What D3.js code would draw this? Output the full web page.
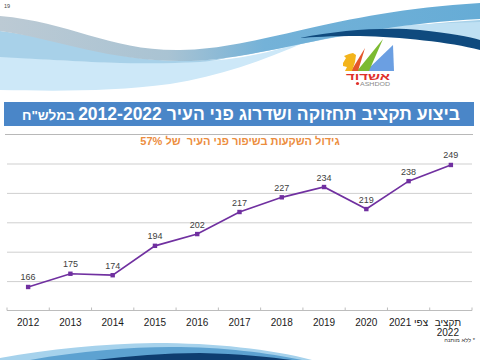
<!DOCTYPE html>
<html><head><meta charset="utf-8">
<script src="https://cdn.jsdelivr.net/npm/d3@7"></script>
<style>html,body{margin:0;padding:0;background:#fff;}svg{display:block;}</style>
</head><body>
<script>
// ---- data ----
const categories = ["2012","2013","2014","2015","2016","2017","2018","2019","2020","2021","2022"];
const values = [166,175,174,194,202,217,227,234,219,238,249];
const tickLabels = [["2012"],["2013"],["2014"],["2015"],["2016"],["2017"],["2018"],["2019"],["2020"],["צפי 2021"],["תקציב","2022"]];
const gridValues = [170,190,210,230,250];
const yDomain = [150,250];
const titleMain = "ביצוע תקציב תחזוקה ושדרוג פני העיר 2012-2022";
const titleUnit = "במלש\"ח";
const subtitle = "גידול השקעות בשיפור פני העיר  של 57%";
const footnote = "* ללא מותנה";

const W = 480, H = 360;
const font = "'Liberation Sans', Arial, 'DejaVu Sans', sans-serif";
const svg = d3.select("body").append("svg").attr("width", W).attr("height", H)
  .style("font-family", font);

// ---- decorative top wave ----
const defs = svg.append("defs");
const g1 = defs.append("linearGradient").attr("id","bandGrad").attr("x1","0").attr("x2","1").attr("y1","0").attr("y2","0");
g1.append("stop").attr("offset","0").attr("stop-color","#bccad4");
g1.append("stop").attr("offset","0.35").attr("stop-color","#a9c3d3");
g1.append("stop").attr("offset","0.55").attr("stop-color","#74b2d8");
g1.append("stop").attr("offset","1").attr("stop-color","#66acd6");

const deco = svg.append("g");
deco.append("path").attr("fill","#cde8f8")
  .attr("d","M0,56 C80,62 150,66 220,60 C260,56 290,46 310,40 C260,62 220,76 170,84 C110,92 50,91 0,90 Z");
deco.append("path").attr("fill","#a8d1e9")
  .attr("d","M0,31 C60,38 110,60 180,61 C260,61 320,30 480,20 L480,40 C400,36 340,34 300,38 C260,48 230,60 200,62 C130,66 60,60 0,57 Z");
deco.append("path").attr("fill","#bfe0f3")
  .attr("d","M300,38 C340,30 400,24 480,22 L480,40 C440,34 380,30 330,33 Z");
deco.append("path").attr("fill","url(#bandGrad)")
  .attr("d","M0,16 C70,22 110,51 180,50 C260,49 330,12 480,3 L480,19 C330,27 260,62 180,61 C110,61 60,40 0,31 Z");
deco.append("path").attr("fill","#0f4a7e")
  .attr("d","M300,38 C340,30 385,27 420,30 C450,33 470,37 480,40 L480,50 C450,42 400,37 360,36 C330,36 312,37 300,38 Z");

// page number
svg.append("text").attr("x",4).attr("y",8).attr("font-size",5.5).attr("fill","#444").text("19");

// ---- logo ----
const logo = svg.append("g");
logo.append("path").attr("fill","#6b9fe2").attr("d","M366,71 L393,45 L394,71 Z");
logo.append("path").attr("fill","#7cba31").attr("d","M357,71 L383,39 L369,71 Z");
logo.append("path").attr("fill","#e4562a").attr("d","M351,71 L365,48 L358,71 Z");
logo.append("path").attr("fill","#f3b41b").attr("d","M343,63 L346,58 L344,56 L349,54 L353,53 L356,55 L355,62 L352,71 L345,71 L347,67 L343,66 Z");
logo.append("text").attr("x",368).attr("y",80).attr("text-anchor","middle").attr("font-size",10).attr("font-weight","bold")
  .attr("fill","#e0302a").attr("textLength",44).attr("lengthAdjust","spacingAndGlyphs").text("אשדוד");
logo.append("circle").attr("cx",357.5).attr("cy",83.5).attr("r",1.6).attr("fill","#e0302a");
logo.append("text").attr("x",360).attr("y",85.5).attr("font-size",5).attr("fill","#8a8a8a")
  .attr("textLength",30).attr("lengthAdjust","spacingAndGlyphs").text("ASHDOD");

// ---- title bar ----
svg.append("rect").attr("x",4).attr("y",102).attr("width",470).attr("height",24).attr("fill","#4a86c8");
svg.append("text").attr("x",460).attr("y",120).attr("text-anchor","end").attr("font-size",17.5).attr("font-weight","bold")
  .attr("fill","#fff").text(titleMain);
svg.append("text").attr("x",22).attr("y",120).attr("text-anchor","start").attr("font-size",13.5).attr("font-weight","bold")
  .attr("fill","#fff").text(titleUnit);
svg.append("line").attr("x1",5).attr("x2",473).attr("y1",134.5).attr("y2",134.5).attr("stroke","#b8b8b8").attr("stroke-width",1);
svg.append("text").attr("x",240).attr("y",144.5).attr("text-anchor","middle").attr("direction","rtl").attr("font-size",11)
  .attr("font-weight","bold").attr("fill","#ec8d3e").style("white-space","pre").text(subtitle);

// ---- chart ----
const x = d3.scaleBand().domain(categories).range([7,472]).padding(0);
const y = d3.scaleLinear().domain(yDomain).range([310.5,163.5]);
const bw = x.bandwidth();
const cx = c => x(c) + bw/2;

// gridlines
const grid = svg.append("g").attr("transform","translate(7,0)")
  .call(d3.axisLeft(y).tickValues(gridValues).tickSize(-465).tickFormat(""));
grid.select(".domain").remove();
grid.selectAll(".tick line").attr("stroke","#cfcfcf").attr("stroke-width",1);

// x axis
const xa = svg.append("g").attr("transform",`translate(0,${y(yDomain[0])})`)
  .call(d3.axisBottom(x).tickSize(0).tickFormat(""));
xa.select(".domain").attr("stroke","#bdbdbd").attr("d","M7,0H472");
const bounds = categories.map(c => x(c)).concat([x(categories[categories.length-1]) + bw]);
xa.selectAll("line.sep").data(bounds).join("line").attr("class","sep")
  .attr("x1",d=>d).attr("x2",d=>d).attr("y1",-3).attr("y2",0).attr("stroke","#bdbdbd");
xa.selectAll("text.lab").data(categories).join("text").attr("class","lab")
  .attr("y", 15).attr("text-anchor","middle").attr("font-size",10).attr("fill","#1a1a1a")
  .attr("font-family",font)
  .each(function(c){
    const lines = tickLabels[categories.indexOf(c)];
    const t = d3.select(this);
    lines.forEach((l,i)=>{
      t.append("tspan").attr("x", cx(c) - (lines.length>1?3:0)).attr("dy", i===0?0:10.5).text(l);
    });
  });

// line
const line = d3.line().x((d,i)=>cx(categories[i])).y(d=>y(d));
svg.append("path").datum(values).attr("d",line).attr("fill","none").attr("stroke","#7030a0").attr("stroke-width",1.7);
svg.selectAll("rect.mk").data(values).join("rect").attr("class","mk")
  .attr("x",(d,i)=>cx(categories[i])-2.2).attr("y",d=>y(d)-2.2).attr("width",4.4).attr("height",4.4).attr("fill","#7030a0");
svg.selectAll("text.val").data(values).join("text").attr("class","val")
  .attr("x",(d,i)=>cx(categories[i])).attr("y",d=>y(d)-6.5).attr("text-anchor","middle")
  .attr("font-size",9).attr("fill","#404040").text(d=>d);

// footnote
svg.append("text").attr("x",475).attr("y",342).attr("text-anchor","start").attr("direction","rtl")
  .attr("font-size",5.8).attr("fill","#333").text(footnote);

// ---- bottom wave ----
const bw2 = svg.append("g");
bw2.append("path").attr("fill","#a6d2ec").attr("d","M0,360 L0,358 C50,349 100,344 155,343 C215,343 270,349 312,360 Z");
bw2.append("path").attr("fill","#5da2d1").attr("d","M30,360 C80,351 130,347 170,347 C225,347 268,353 302,360 Z");
bw2.append("path").attr("fill","#0e3d70").attr("d","M95,360 C130,356 165,353 200,353 C240,354 270,357 292,360 Z");
</script>
</body></html>
